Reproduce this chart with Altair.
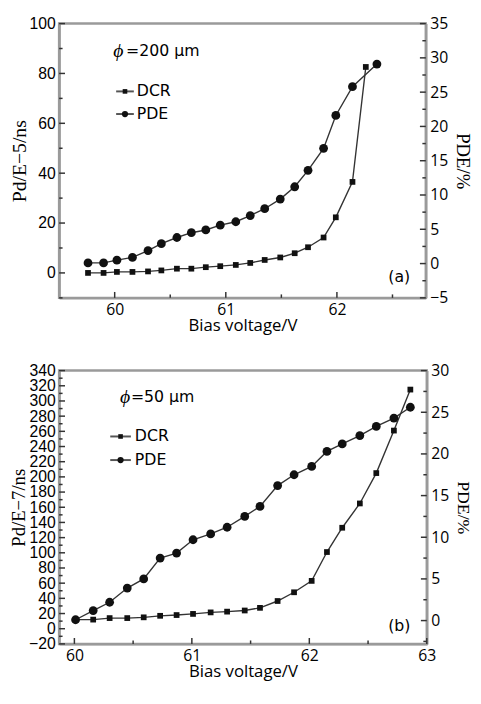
import altair as alt
import pandas as pd

# ---------------- data ----------------
# panel (a): phi = 200 um
TOP_V_DCR = [59.76, 59.90, 60.02, 60.16, 60.30, 60.42, 60.56, 60.69, 60.82, 60.95,
             61.09, 61.22, 61.35, 61.49, 61.62, 61.74, 61.88, 61.99, 62.14, 62.26]
TOP_DCR = [0.0, 0.0, 0.4, 0.4, 0.6, 1.0, 1.7, 1.7, 2.3, 2.7,
           3.2, 4.0, 5.2, 6.2, 7.9, 10.3, 14.2, 22.3, 36.5, 82.6]
TOP_V_PDE = [59.76, 59.90, 60.02, 60.16, 60.30, 60.42, 60.56, 60.69, 60.82, 60.95,
             61.09, 61.22, 61.35, 61.49, 61.62, 61.74, 61.88, 61.99, 62.14, 62.36]
TOP_PDE = [0.1, 0.1, 0.5, 0.9, 1.9, 2.9, 3.8, 4.5, 4.9, 5.6,
           6.1, 7.0, 8.0, 9.4, 11.2, 13.6, 16.8, 21.6, 25.8, 29.1]

# panel (b): phi = 50 um
BOT_V = [60.01, 60.16, 60.30, 60.45, 60.59, 60.73, 60.87, 61.01, 61.16, 61.30,
         61.45, 61.58, 61.73, 61.87, 62.02, 62.15, 62.28, 62.43, 62.57, 62.72, 62.86]
BOT_DCR = [12, 12, 14, 14, 15, 17, 18, 19.5, 21.5, 22.5,
           24, 27.5, 36.5, 48, 63, 101, 133, 165, 205, 261, 315]
BOT_PDE = [0.1, 1.2, 2.2, 3.9, 5.0, 7.5, 8.1, 9.7, 10.4, 11.2,
           12.5, 13.7, 16.2, 17.5, 18.5, 20.3, 21.2, 22.2, 23.3, 24.3, 25.6]

# axis tick labels
TOP_X_LABELS = [60, 61, 62]
TOP_X_MINOR = [60.5, 61.5, 62.5]
TOP_YL_LABELS = [0, 20, 40, 60, 80, 100]
TOP_YL_MINOR = [-10, 10, 30, 50, 70, 90]
TOP_YR_LABELS = [-5, 0, 5, 10, 15, 20, 25, 30, 35]
TOP_YR_MINOR = [-2.5, 2.5, 7.5, 12.5, 17.5, 22.5, 27.5, 32.5]

BOT_X_LABELS = [60, 61, 62, 63]
BOT_X_MINOR = [60.5, 61.5, 62.5]
BOT_YL_LABELS = list(range(-20, 341, 20))
BOT_YL_MINOR = list(range(-10, 331, 20))
BOT_YR_LABELS = [0, 5, 10, 15, 20, 25, 30]
BOT_YR_MINOR = [-2.5, 2.5, 7.5, 12.5, 17.5, 22.5, 27.5]

GRAY = "#9a9a9a"
LINE = "#333333"
MARK = "#111111"
SANS = "Open Sans"
ANN = "DejaVu Sans"
SERIF = "Liberation Serif"


def panel(v_dcr, dcr, v_pde, pde, xdom, xlab, xmin, ldom, llab, lmin,
          rdom, rlab, rmin, ltitle, rtitle, lts, rts, W, H,
          phi_num, tag, ann):
    xsc = alt.Scale(domain=xdom, nice=False, zero=False)
    lsc = alt.Scale(domain=ldom, nice=False, zero=False)
    rsc = alt.Scale(domain=rdom, nice=False, zero=False)
    xax = alt.Axis(values=xlab, title="Bias voltage/V", titleFont=SANS,
                   titleFontSize=17, titleFontWeight="normal", labelFont=SANS,
                   labelFontSize=16, ticks=False, labelPadding=4, titlePadding=0,
                   labelFlush=False, labelOverlap=False, format="d")
    lax = alt.Axis(values=llab, title=ltitle, titleFont=SERIF, titleFontSize=lts,
                   titleFontWeight="normal", labelFont="Liberation Sans",
                   labelFontSize=16, ticks=False, labelPadding=4, titlePadding=0,
                   labelFlush=False, labelOverlap=False, format="d")
    rax = alt.Axis(values=rlab, title=rtitle, orient="right", titleFont=SERIF,
                   titleFontSize=rts, titleFontWeight="normal", labelFont=SANS,
                   labelFontSize=16, ticks=False, labelPadding=4, titlePadding=5,
                   labelFlush=False, labelOverlap=False, format="d")

    d_dcr = pd.DataFrame({"V": v_dcr, "y": dcr})
    d_pde = pd.DataFrame({"V": v_pde, "y": pde})
    X = alt.X("V:Q", scale=xsc, axis=xax)

    dcr_line = alt.Chart(d_dcr).mark_line(color=LINE, strokeWidth=1.4).encode(
        x=X, y=alt.Y("y:Q", scale=lsc, axis=lax))
    dcr_pts = alt.Chart(d_dcr).mark_point(filled=True, shape="square", size=34,
                                          color=MARK, opacity=1).encode(
        x=X, y=alt.Y("y:Q", scale=lsc, axis=lax))
    pde_line = alt.Chart(d_pde).mark_line(color=LINE, strokeWidth=1.4).encode(
        x=X, y=alt.Y("y:Q", scale=rsc, axis=rax))
    pde_pts = alt.Chart(d_pde).mark_point(filled=True, shape="circle", size=80,
                                          color=MARK, opacity=1).encode(
        x=X, y=alt.Y("y:Q", scale=rsc, axis=rax))

    def yticks(vals, sc, ax, x0, x1):
        return alt.Chart(pd.DataFrame({"v": vals})).mark_rule(
            color=LINE, strokeWidth=1.5).encode(
            y=alt.Y("v:Q", scale=sc, axis=ax), x=alt.value(x0), x2=alt.value(x1))

    def xticks(vals, ln):
        return alt.Chart(pd.DataFrame({"v": vals})).mark_rule(
            color=LINE, strokeWidth=1.5).encode(
            x=alt.X("v:Q", scale=xsc, axis=xax), y=alt.value(H), y2=alt.value(H - ln))

    one = pd.DataFrame({"a": [0]})

    def txt(s, x, y, font=ANN, size=16, style="normal", align="left"):
        return alt.Chart(one).mark_text(text=s, font=font, fontSize=size,
                                        fontStyle=style, align=align,
                                        baseline="middle", color="black").encode(
            x=alt.value(x), y=alt.value(y))

    def leg_line(x0, x1, y):
        return alt.Chart(one).mark_rule(color="#555555", strokeWidth=2).encode(
            x=alt.value(x0), x2=alt.value(x1), y=alt.value(y))

    def leg_pt(x, y, shape, size):
        return alt.Chart(one).mark_point(filled=True, shape=shape, size=size,
                                         color=MARK, opacity=1).encode(
            x=alt.value(x), y=alt.value(y))

    a = ann
    decor = [
        txt("ϕ", a["phi_x"], a["phi_y"], font=SERIF, size=20, style="italic"),
        txt(phi_num, a["num_x"], a["phi_y"]),
        leg_line(a["lx0"], a["lx1"], a["dcr_y"]),
        leg_pt((a["lx0"] + a["lx1"]) / 2, a["dcr_y"], "square", 22),
        txt("DCR", a["tx"], a["dcr_y"]),
        leg_line(a["lx0"], a["lx1"], a["pde_y"]),
        leg_pt((a["lx0"] + a["lx1"]) / 2, a["pde_y"], "circle", 40),
        txt("PDE", a["tx"], a["pde_y"]),
        txt(tag, a["tag_x"], a["tag_y"], align="center"),
    ]

    left = alt.layer(
        yticks(llab, lsc, lax, 0, 6),
        yticks(lmin, lsc, lax, 0, 3.5),
        xticks(xlab, 6),
        xticks(xmin, 3.5),
        dcr_line, dcr_pts, *decor,
    )
    right = alt.layer(
        yticks(rlab, rsc, rax, W - 6, W),
        yticks(rmin, rsc, rax, W - 3.5, W),
        pde_line, pde_pts,
    )
    return alt.layer(left, right).resolve_scale(y="independent").properties(
        width=W, height=H)


top = panel(TOP_V_DCR, TOP_DCR, TOP_V_PDE, TOP_PDE,
            [59.5, 62.8], TOP_X_LABELS, TOP_X_MINOR,
            [-10, 100], TOP_YL_LABELS, TOP_YL_MINOR,
            [-5, 35], TOP_YR_LABELS, TOP_YR_MINOR,
            "Pd/E\u22125/ns", "PDE/%", 20, 19, 373, 279,
            "=200 \u03bcm", "(a)",
            dict(phi_x=55, phi_y=28, num_x=68, lx0=58, lx1=76, dcr_y=69,
                 pde_y=92, tx=79, tag_x=346, tag_y=258))

bottom = panel(BOT_V, BOT_DCR, BOT_V, BOT_PDE,
               [59.87, 63], BOT_X_LABELS, BOT_X_MINOR,
               [-20, 340], BOT_YL_LABELS, BOT_YL_MINOR,
               [-2.8, 30], BOT_YR_LABELS, BOT_YR_MINOR,
               "Pd/E\u22127/ns", "PDE/%", 19, 18, 374, 278,
               "=50 \u03bcm", "(b)",
               dict(phi_x=62, phi_y=27, num_x=73, lx0=52, lx1=73, dcr_y=67,
                    pde_y=91, tx=77, tag_x=346, tag_y=260))

chart = alt.vconcat(top, bottom, spacing=26).properties(
    padding={"left": 0, "top": 0, "right": 0, "bottom": 0}
).configure_view(stroke=GRAY, strokeWidth=2.5).configure_axis(
    domainColor=GRAY, domainWidth=2.5, grid=False,
    labelColor="black", titleColor="black")

chart.save("out.html", embed_options={"renderer": "svg", "actions": False})
